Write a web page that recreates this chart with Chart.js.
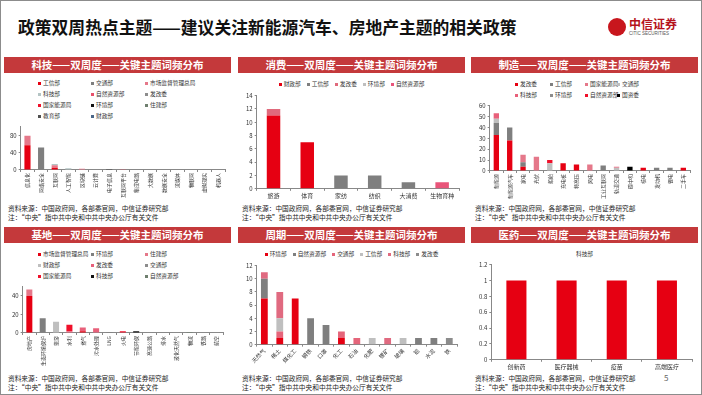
<!DOCTYPE html>
<html>
<head>
<meta charset="utf-8">
<script src="https://cdn.jsdelivr.net/npm/chart.js@4.4.0/dist/chart.umd.min.js"></script>
<style>
  body { margin: 0; width: 702px; height: 395px; position: relative; overflow: hidden; background: #fff; font-family: "Noto Sans CJK SC", sans-serif; }
  .frame { position: absolute; left: 0; top: 0; width: 700px; height: 393px; border: 1px solid #8c8c8c; }
  .title { position: absolute; left: 18px; top: 16px; font-size: 16.8px; font-weight: bold; color: #111; line-height: 22px; }
  .logo { position: absolute; left: 608px; top: 17px; }
  .logo .dot { position: absolute; left: 0; top: 1px; width: 18px; height: 18px; border-radius: 50%; background: #c8161d; }
  .logo .cn { position: absolute; left: 21px; top: -1px; font-size: 12px; font-weight: bold; color: #b5121b; white-space: nowrap; line-height: 15px; }
  .logo .en { position: absolute; left: 21px; top: 14px; font-size: 4.5px; color: #555; white-space: nowrap; font-family: "Liberation Sans", sans-serif; }
  .head { position: absolute; width: 227px; height: 16px; background: #c4393b; color: #fff; font-weight: bold; font-size: 10.5px; line-height: 16px; text-align: center; }
  .legend { position: absolute; font-size: 5.7px; color: #333; display: grid; white-space: nowrap; line-height: 11px; }
  .legend i { display: inline-block; width: 3px; height: 3px; margin-right: 2px; vertical-align: middle; }
  .src { position: absolute; font-size: 6.7px; color: #222; line-height: 9px; white-space: nowrap; }
  .page { position: absolute; left: 664px; top: 372px; font-size: 8px; color: #666; }
  canvas { position: absolute; }
</style>
</head>
<body>
<div class="frame"></div>
<div class="title">政策双周热点主题——建议关注新能源汽车、房地产主题的相关政策</div>
<div class="logo"><div class="dot"></div><div class="cn">中信证券</div><div class="en">CITIC SECURITIES</div></div>

<div class="head" style="left:4px;top:57px">科技——双周度——关键主题词频分布</div>
<div class="head" style="left:238px;top:57px">消费——双周度——关键主题词频分布</div>
<div class="head" style="left:471px;top:57px">制造——双周度——关键主题词频分布</div>
<div class="head" style="left:4px;top:227px">基地——双周度——关键主题词频分布</div>
<div class="head" style="left:238px;top:227px">周期——双周度——关键主题词频分布</div>
<div class="head" style="left:471px;top:227px">医药——双周度——关键主题词频分布</div>

<div id="lg1" class="legend" style="left:38px;top:77px;grid-template-columns:53px 54px 60px"></div>
<div id="lg2" class="legend" style="left:238px;top:78px;width:227px;display:flex;justify-content:center;gap:6px"></div>
<div id="lg3" class="legend" style="left:515px;top:78px;grid-template-columns:35px 35px 32px 30px"></div>
<div id="lg4" class="legend" style="left:38px;top:248px;grid-template-columns:53px 54px 60px"></div>
<div id="lg5" class="legend" style="left:238px;top:248px;width:227px;display:flex;justify-content:center;gap:6px"></div>
<div id="lg6" class="legend" style="left:471px;top:248px;width:227px;display:flex;justify-content:center"></div>

<canvas id="c1" width="227" height="78" style="left:4px;top:121px"></canvas>
<canvas id="c2" width="227" height="110" style="left:238px;top:90px"></canvas>
<canvas id="c3" width="227" height="100" style="left:471px;top:100px"></canvas>
<canvas id="c4" width="227" height="86" style="left:4px;top:281px"></canvas>
<canvas id="c5" width="227" height="105" style="left:238px;top:260px"></canvas>
<canvas id="c6" width="227" height="112" style="left:471px;top:259px"></canvas>

<div class="src" style="left:8px;top:204px">资料来源：中国政府网，各部委官网，中信证券研究部<br>注：“中央”指中共中央和中共中央办公厅有关文件</div>
<div class="src" style="left:242px;top:204px">资料来源：中国政府网，各部委官网，中信证券研究部<br>注：“中央”指中共中央和中共中央办公厅有关文件</div>
<div class="src" style="left:475px;top:204px">资料来源：中国政府网，各部委官网，中信证券研究部<br>注：“中央”指中共中央和中共中央办公厅有关文件</div>
<div class="src" style="left:8px;top:374px">资料来源：中国政府网，各部委官网，中信证券研究部<br>注：“中央”指中共中央和中共中央办公厅有关文件</div>
<div class="src" style="left:242px;top:374px">资料来源：中国政府网，各部委官网，中信证券研究部<br>注：“中央”指中共中央和中共中央办公厅有关文件</div>
<div class="src" style="left:475px;top:374px">资料来源：中国政府网，各部委官网，中信证券研究部<br>注：“中央”指中共中央和中共中央办公厅有关文件</div>
<div class="page">5</div>

<script>
// 科技
const techCats = ['信息化', '网络安全', '互联网', '人工智能', '区块链', '云计算', '电子信息', '互联网平台', '集成电路', '大数据', '数据安全', '流媒体', '物联网', '虚拟现实', '机器人'];
const techSeries = ['工信部', '交通部', '市场监督管理总局', '科技部', '自然资源部', '发改委', '国家能源局', '环境部', '住建部', '教育部', '财政部'];
const techValues = [
  [57, 0, 5, 0, 0, 0, 0, 0, 0, 0, 0, 0, 0, 0, 0],
  [0, 52, 0, 0, 0, 0, 0, 0, 0, 0, 0, 0, 0, 0, 0],
  [22, 0, 6, 0, 3, 0, 0, 0, 0, 0, 0, 0, 0, 0, 0],
  [0, 0, 3, 4, 0, 0, 0, 0, 0, 0, 0, 0, 0, 0, 0],
  [0, 0, 0, 0, 0, 0, 0, 2, 0, 1, 0, 0, 0, 0, 0],
  [0, 0, 0, 0, 0, 2, 0, 0, 1, 0, 1, 0, 0, 0, 0],
  [0, 0, 0, 0, 0, 0, 0, 0, 0, 0, 0, 0, 0, 0, 0],
  [0, 0, 0, 0, 0, 0, 2, 0, 0, 0, 0, 0, 0, 0, 0],
  [0, 0, 0, 0, 0, 0, 0, 0, 0, 0, 0, 1, 0, 0, 0],
  [0, 0, 0, 0, 0, 0, 0, 0, 0, 0, 0, 0, 1, 1, 0],
  [0, 0, 0, 0, 0, 0, 0, 0, 0, 0, 0, 0, 0, 0, 1]
];
const techColors = ['#e60012', '#7f7f7f', '#e5788a', '#b4c4c4', '#e8506a', '#8c8c8c', '#f0102a', '#111111', '#6f7f6f', '#505050', '#4a6688'];

// 消费
const consCats = ['旅游', '体育', '家纺', '纺织', '大消费', '生物育种'];
const consSeries = ['财政部', '工信部', '发改委', '环境部', '自然资源部'];
const consValues = [
  [11, 7, 0, 0, 0, 0],
  [0, 0, 2, 2, 1, 0],
  [1, 0, 0, 0, 0, 0],
  [0, 0, 0, 0, 0, 0],
  [0, 0, 0, 0, 0, 1]
];
const consColors = ['#e60012', '#7f7f7f', '#e06a7c', '#bfbfbf', '#e9557a'];

// 制造
const mfgCats = ['新能源', '新能源汽车', '家电', '光伏', '船舶', '充电桩', '特高压', '风电', '工业互联网', '轨道交通', '碳中和', '核电', '发动机', '锂电', '二手车'];
const mfgSeries = ['发改委', '工信部', '国家能源局', '交通部', '科技部', '环境部', '自然资源部', '国资委'];
const mfgValues = [
  [33, 28, 4, 0, 0, 7, 6, 0, 0, 0, 0, 3, 0, 0, 3],
  [11, 12, 4, 0, 0, 0, 0, 0, 5, 0, 0, 0, 3, 3, 0],
  [0, 0, 7, 13, 0, 0, 0, 6, 0, 0, 0, 0, 0, 0, 0],
  [4, 0, 0, 0, 7, 0, 0, 0, 0, 3, 0, 0, 0, 0, 0],
  [5, 0, 0, 0, 0, 0, 0, 0, 0, 1, 0, 0, 0, 0, 0],
  [0, 0, 0, 0, 0, 0, 0, 0, 0, 0, 0, 0, 0, 0, 0],
  [0, 0, 0, 0, 3, 0, 0, 0, 0, 0, 0, 0, 0, 0, 0],
  [0, 0, 0, 0, 0, 0, 0, 0, 0, 0, 4, 0, 0, 0, 0]
];
const mfgColors = ['#e60012', '#7f7f7f', '#e5788a', '#bfbfbf', '#e8607a', '#8c8c8c', '#f0102a', '#000000'];

// 基地
const baseCats = ['房地产', '生态环境保护', '旅游', '水利', '燃气', '污水处理', 'LNG', '火电', '节能环保', '高速公路', '排水', '液化天然气', '物流', '铁路', '航空'];
const baseSeries = ['市场监督管理总局', '环境部', '住建部', '财政部', '发改委', '交通部', '国家能源局', '科技部', '自然资源部'];
const baseValues = [
  [40, 0, 0, 0, 2, 0, 0, 0, 0, 0, 0, 0, 0, 0, 0],
  [0, 16, 0, 0, 0, 0, 1, 0, 0, 0, 0, 0, 0, 0, 0],
  [7, 0, 0, 0, 0, 0, 0, 0, 0, 0, 0, 0, 0, 0, 0],
  [0, 0, 12, 0, 0, 0, 0, 0, 0, 0, 0, 0, 0, 0, 0],
  [0, 0, 0, 2, 4, 5, 0, 0, 0, 0, 0, 0, 0, 0, 0],
  [0, 0, 0, 0, 0, 0, 0, 0, 0, 1, 0, 1, 0, 1, 1],
  [0, 0, 0, 7, 0, 0, 0, 2, 0, 0, 0, 0, 0, 0, 0],
  [0, 0, 0, 0, 0, 0, 0, 0, 2, 0, 0, 0, 0, 0, 0],
  [0, 0, 0, 0, 0, 0, 0, 0, 0, 0, 0, 0, 1, 0, 0]
];
const baseColors = ['#e60012', '#7f7f7f', '#e5788a', '#bfbfbf', '#e8607a', '#8c8c8c', '#f0102a', '#111111', '#6f7f6f'];

// 周期
const cycCats = ['天然气', '稀土', '煤化工', '钢铁', '口罩', '化工', '石油', '化肥', '锂矿', '玻璃', '铝', '水泥', '铁'];
const cycSeries = ['环境部', '自然资源部', '交通部', '工信部', '科技部', '发改委'];
const cycValues = [
  [7, 1, 7, 0, 0, 1, 0, 0, 0, 0, 0, 0, 0],
  [3, 0, 0, 4, 3, 0, 0, 0, 0, 0, 1, 1, 0],
  [0, 1, 0, 0, 0, 1, 1, 0, 0, 0, 0, 0, 0],
  [0, 2, 0, 0, 0, 0, 0, 1, 0, 1, 0, 0, 0],
  [1, 4, 0, 0, 0, 0, 0, 0, 1, 0, 0, 0, 0],
  [0, 0, 0, 0, 0, 0, 0, 0, 0, 0, 0, 0, 1]
];
const cycColors = ['#e60012', '#7f7f7f', '#e5657a', '#bfbfbf', '#e06a80', '#8c8c8c'];

// 医药
const medCats = ['创新药', '医疗器械', '疫苗', '高端医疗'];
const medSeries = ['科技部'];
const medValues = [[1, 1, 1, 1]];
const medColors = ['#e60012'];

function legend(id, names, colors, noBox) {
  const el = document.getElementById(id);
  el.innerHTML = names.map((n, i) =>
    '<span>' + (noBox ? '' : '<i style="background:' + colors[i] + '"></i>') + n + '</span>').join('');
}

function draw(id, cats, names, values, colors, o) {
  const ctx = document.getElementById(id).getContext('2d');
  new Chart(ctx, {
    type: 'bar',
    data: {
      labels: cats,
      datasets: names.map((n, i) => ({
        label: n,
        data: values[i],
        backgroundColor: colors[i],
        barPercentage: o.bar,
        categoryPercentage: 1,
      })),
    },
    options: {
      responsive: false,
      animation: false,
      layout: { padding: o.pad },
      plugins: { legend: { display: false }, tooltip: { enabled: false } },
      scales: {
        x: {
          stacked: true,
          grid: { drawOnChartArea: false, tickLength: 2, color: '#888' },
          border: { color: '#888' },
          ticks: { font: { size: o.xs, family: 'Noto Sans CJK SC' }, color: '#333', minRotation: o.rot, maxRotation: o.rot, autoSkip: false, padding: 1 },
        },
        y: {
          stacked: true,
          min: 0,
          max: o.max,
          grid: { drawOnChartArea: false, tickLength: 2, color: '#888' },
          border: { color: '#888' },
          ticks: {
            stepSize: o.step,
            font: { size: 6, family: 'Noto Sans CJK SC' },
            color: '#333',
            padding: 2,
            callback: (v) => String(Math.round(v * 10) / 10),
          },
        },
      },
    },
  });
}

legend('lg1', techSeries, techColors);
legend('lg2', consSeries, consColors);
legend('lg3', mfgSeries, mfgColors);
legend('lg4', baseSeries, baseColors);
legend('lg5', cycSeries, cycColors);
legend('lg6', medSeries, medColors, true);

draw('c1', techCats, techSeries, techValues, techColors, { bar: 0.45, rot: 90, xs: 5, max: 100, step: 20, pad: { left: 4, right: 6, top: 2, bottom: 0 } });
draw('c2', consCats, consSeries, consValues, consColors, { bar: 0.4, rot: 0, xs: 6, max: 14, step: 2, pad: { left: 6, right: 6, top: 2, bottom: 0 } });
draw('c3', mfgCats, mfgSeries, mfgValues, mfgColors, { bar: 0.4, rot: 90, xs: 5, max: 60, step: 10, pad: { left: 6, right: 8, top: 2, bottom: 0 } });
draw('c4', baseCats, baseSeries, baseValues, baseColors, { bar: 0.45, rot: 90, xs: 5, max: 50, step: 10, pad: { left: 6, right: 8, top: 2, bottom: 0 } });
draw('c5', cycCats, cycSeries, cycValues, cycColors, { bar: 0.44, rot: 45, xs: 5.5, max: 12, step: 2, pad: { left: 6, right: 8, top: 2, bottom: 0 } });
draw('c6', medCats, medSeries, medValues, medColors, { bar: 0.4, rot: 0, xs: 6, max: 1.2, step: 0.2, pad: { left: 6, right: 6, top: 2, bottom: 0 } });
</script>
</body>
</html>
